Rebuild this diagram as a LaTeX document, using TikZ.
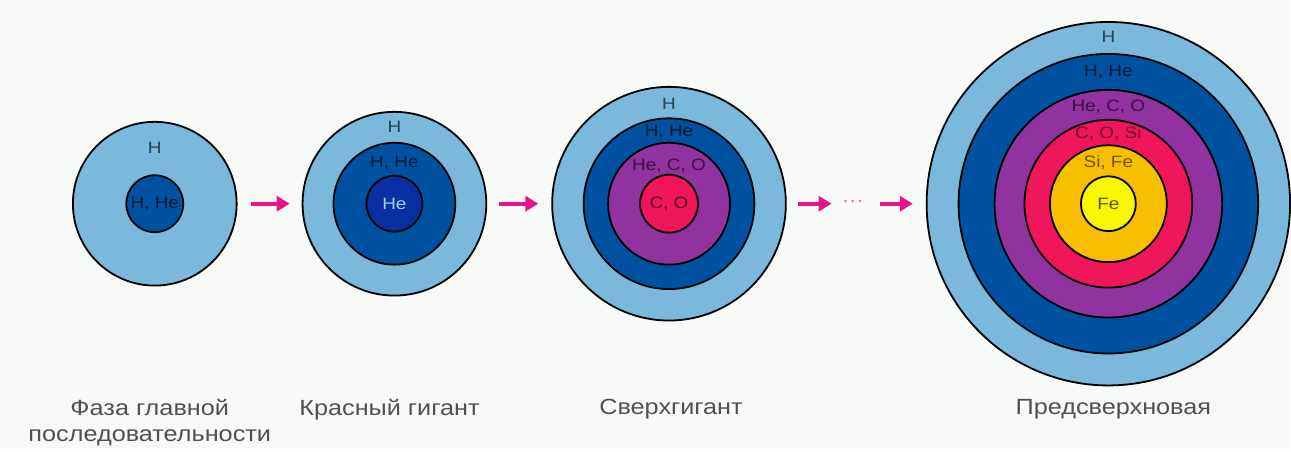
\documentclass[tikz,border=0pt]{standalone}
\usepackage{fontspec}
\setmainfont{Liberation Sans}
\newfontfamily\widesans[FakeStretch=1.15]{Liberation Sans}
\usetikzlibrary{arrows.meta,positioning}

\definecolor{skyH}{RGB}{122,184,220}
\definecolor{navyHHe}{RGB}{0,82,160}
\definecolor{coreHe}{RGB}{8,48,160}
\definecolor{purpHeCO}{RGB}{146,50,160}
\definecolor{pinkCO}{RGB}{240,22,92}
\definecolor{orangeSiFe}{RGB}{248,190,0}
\definecolor{yellowFe}{RGB}{248,246,0}
\definecolor{arrowpink}{RGB}{232,18,140}
\definecolor{bgpaper}{RGB}{247,250,247}
\definecolor{captiongray}{RGB}{80,80,80}

\begin{document}
\begin{tikzpicture}[x=1pt, y=-1pt,
    layer/.style={circle, draw=black, line width=1.8pt, inner sep=0pt},
    lbl/.style={font=\widesans\fontsize{16.5}{16.5}\selectfont, inner sep=0pt},
    caption/.style={font=\widesans\fontsize{22}{26}\selectfont, text=captiongray, align=center},
    arrow/.style={-{Triangle[length=13pt,width=15pt]}, line width=4pt, arrowpink}
]
\path[fill=bgpaper] (0,0) rectangle (1291,452);

% main sequence
\node[layer, fill=skyH, minimum size=164pt] (s1) at (155,204) {};
\node[layer, fill=navyHHe, minimum size=57pt] (s1core) at (155,204) {};
\node[lbl, text=skyH!35!black] (s1H) at (155,148) {H};
\node[lbl, text=navyHHe!30!black] (s1HHe) at (155,204) {H, He};

% red giant
\node[layer, fill=skyH, minimum size=184pt] (s2) at (395,204) {};
\node[layer, fill=navyHHe, minimum size=122pt] (s2HHe) at (395,204) {};
\node[layer, fill=coreHe, minimum size=56pt] (s2core) at (395,204) {};
\node[lbl, text=skyH!35!black] (s2H) at (395,127) {H};
\node[lbl, text=navyHHe!30!black] (s2HHeL) at (395,163) {H, He};
\node[lbl, text=skyH!70!white] (s2He) at (395,204) {He};

% supergiant
\node[layer, fill=skyH, minimum size=234pt] (s3) at (670,204) {};
\node[layer, fill=navyHHe, minimum size=171pt] (s3HHe) at (670,204) {};
\node[layer, fill=purpHeCO, minimum size=122pt] (s3HeCO) at (670,204) {};
\node[layer, fill=pinkCO, minimum size=58pt] (s3core) at (670,204) {};
\node[lbl, text=skyH!35!black] (s3H) at (670,104) {H};
\node[lbl, text=navyHHe!30!black] (s3HHeL) at (670,132) {H, He};
\node[lbl, text=purpHeCO!40!black] (s3HeCOL) at (670,166) {He, C, O};
\node[lbl, text=pinkCO!40!black] (s3CO) at (670,204) {C, O};

% pre-supernova
\node[layer, fill=skyH, minimum size=364pt] (s4) at (1110,204) {};
\node[layer, fill=navyHHe, minimum size=300pt] (s4HHe) at (1110,204) {};
\node[layer, fill=purpHeCO, minimum size=228pt] (s4HeCO) at (1110,204) {};
\node[layer, fill=pinkCO, minimum size=168pt] (s4COSi) at (1110,204) {};
\node[layer, fill=orangeSiFe, minimum size=117pt] (s4SiFe) at (1110,204) {};
\node[layer, fill=yellowFe, minimum size=55pt] (s4core) at (1110,204) {};
\node[lbl, text=skyH!35!black] (s4H) at (1110,37) {H};
\node[lbl, text=navyHHe!30!black] (s4HHeL) at (1110,72) {H, He};
\node[lbl, text=purpHeCO!40!black] (s4HeCOL) at (1110,107) {He, C, O};
\node[lbl, text=pinkCO!50!black] (s4COSiL) at (1110,134) {C, O, Si};
\node[lbl, text=orangeSiFe!45!black] (s4SiFeL) at (1110,163) {Si, Fe};
\node[lbl, text=yellowFe!35!black] (s4Fe) at (1110,204) {Fe};

% arrows
\node[font=\fontsize{22}{22}\selectfont, text=arrowpink!60!white, inner sep=0pt] (gap) at (854,204) {···};
\draw[arrow, shorten <=13pt, shorten >=12pt] (s1) -- (s2);
\draw[arrow, shorten <=12pt, shorten >=13pt] (s2) -- (s3);
\draw[arrow, shorten <=11pt, shorten >=10pt] (s3) -- (gap);
\draw[arrow, shorten <=16pt, shorten >=13pt] (gap) -- (s4);

% captions
\node[caption] (c1) at (150,423) {Фаза главной\\последовательности};
\node[caption] (c2) at (390,410) {Красный гигант};
\node[caption] (c3) at (672,410) {Сверхгигант};
\node[caption] (c4) at (1115,410) {Предсверхновая};
\end{tikzpicture}
\end{document}
